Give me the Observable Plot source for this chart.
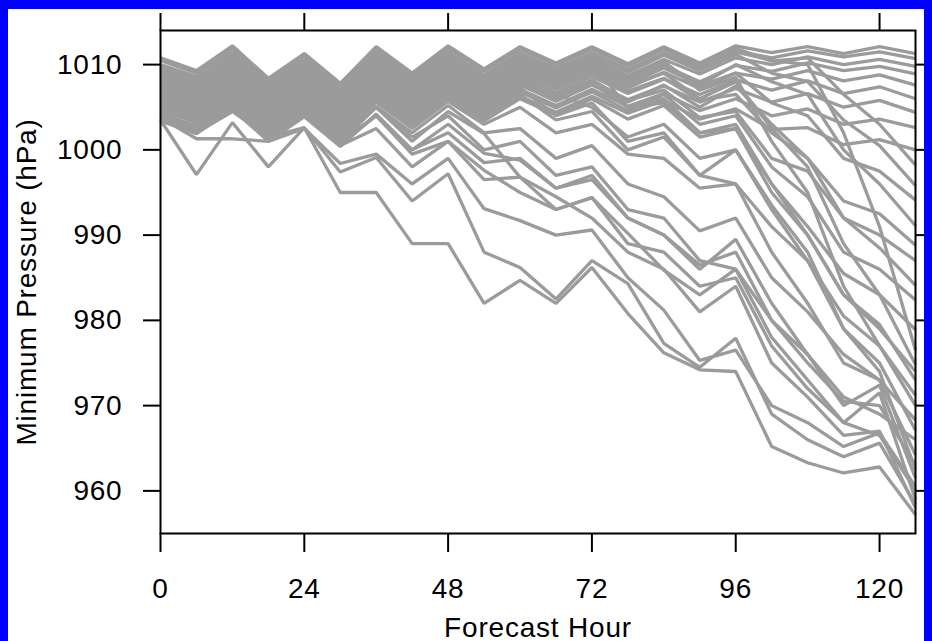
<!DOCTYPE html>
<html><head><meta charset="utf-8">
<script src="https://cdn.jsdelivr.net/npm/d3@7"></script>
<script src="https://cdn.jsdelivr.net/npm/@observablehq/plot@0.6"></script>
<style>
html,body{margin:0;padding:0;background:#0000ff;overflow:hidden;width:932px;height:641px}
#chart{position:absolute;left:8px;top:9px;width:916px;height:632px;background:#fff}
#chart svg{display:block}
#chart svg text{letter-spacing:0.8px}
</style></head><body><div id="chart"></div>
<script>
// Forecast hours (x) and tick labels
const hours = [0,6,12,18,24,30,36,42,48,54,60,66,72,78,84,90,96,102,108,114,120,126];
const xTicks = [0,24,48,72,96,120];
const yTicks = [960,970,980,990,1000,1010];

// Ensemble members: minimum pressure (hPa) at each forecast hour
// members that stay weak
const s1 = [1010.8,1009.3,1012.2,1008.4,1011.3,1007.8,1012.1,1009.0,1012.2,1009.5,1012.1,1010.2,1012.1,1010.1,1012.1,1010.2,1012.2,1011.4,1012.1,1011.3,1012.1,1011.3];
const s2 = [1010.0,1008.6,1011.5,1007.7,1010.6,1007.1,1011.4,1008.3,1011.5,1008.8,1011.4,1009.5,1011.4,1009.4,1011.4,1009.6,1011.6,1010.8,1011.6,1010.9,1011.5,1010.7];
const s3 = [1009.4,1007.9,1010.8,1007.0,1009.9,1006.4,1010.7,1007.6,1010.8,1008.1,1010.7,1008.8,1010.7,1008.7,1010.6,1008.9,1010.8,1010.0,1010.9,1010.0,1010.6,1009.8];
const s4 = [1008.7,1007.2,1010.1,1006.3,1009.2,1005.7,1010.0,1006.9,1010.1,1007.4,1010.0,1008.1,1010.0,1008.0,1009.9,1008.0,1009.9,1009.2,1010.2,1009.3,1009.8,1008.9];
const s5 = [1008.0,1006.5,1009.4,1005.6,1008.5,1005.0,1009.3,1006.2,1009.4,1006.7,1009.3,1007.4,1009.3,1007.3,1009.1,1007.2,1009.0,1008.3,1009.3,1008.1,1008.8,1007.6];
const s6 = [1007.3,1005.8,1008.7,1004.9,1007.8,1004.3,1008.6,1005.5,1008.7,1006.0,1008.6,1006.7,1008.6,1006.6,1008.3,1006.5,1008.2,1007.0,1008.1,1006.6,1007.4,1006.0];
const s7 = [1006.6,1005.1,1008.0,1004.2,1007.1,1003.6,1007.9,1004.8,1008.0,1005.3,1007.9,1006.0,1007.9,1005.9,1007.5,1005.6,1007.2,1005.6,1006.6,1005.0,1005.8,1004.4];
const s8 = [1005.8,1004.3,1007.2,1003.4,1006.3,1002.8,1007.1,1004.0,1007.2,1004.5,1007.1,1005.2,1007.1,1005.1,1006.6,1004.6,1006.0,1004.0,1004.8,1003.0,1003.6,1002.6];
const s9 = [1005.0,1003.5,1006.4,1002.6,1005.5,1002.0,1006.3,1003.2,1006.4,1003.7,1006.3,1004.4,1006.3,1004.3,1005.8,1003.6,1004.8,1002.4,1002.6,1000.6,1001.2,1000.0];
// members deepening late
const l1 = [1010.5,1009.0,1011.9,1008.0,1011.0,1007.4,1011.8,1008.7,1011.9,1009.2,1011.8,1009.9,1011.8,1009.8,1011.8,1009.9,1011.9,1010.4,1010.8,1006.5,1003.0,998.2];
const l2 = [1009.8,1008.3,1011.2,1007.4,1010.3,1006.8,1011.1,1008.0,1011.2,1008.5,1011.1,1009.2,1011.1,1009.1,1011.1,1009.3,1011.2,1009.0,1008.0,1003.5,1000.5,995.8];
const l3 = [1009.1,1007.6,1010.5,1006.7,1009.6,1006.1,1010.4,1007.3,1010.5,1007.8,1010.4,1008.5,1010.4,1008.3,1010.2,1007.5,1009.0,1005.5,1004.0,999.0,997.5,994.1];
const l4 = [1008.4,1006.9,1009.8,1006.0,1008.9,1005.4,1009.7,1006.6,1009.8,1007.1,1009.7,1007.8,1009.7,1007.7,1009.6,1007.6,1010.0,1008.0,1006.5,1000.0,996.0,991.1];
const l5 = [1007.7,1006.2,1009.1,1005.3,1008.2,1004.7,1009.0,1005.9,1009.1,1006.4,1009.0,1007.1,1009.0,1006.9,1008.4,1005.8,1006.5,1002.0,999.0,994.0,992.5,988.8];
const l6 = [1007.0,1005.5,1008.4,1004.6,1007.5,1004.0,1008.3,1005.2,1008.4,1005.7,1008.3,1006.4,1008.2,1005.8,1007.0,1003.8,1004.5,999.0,997.5,992.0,990.0,987.0];
const l7 = [1006.3,1004.8,1007.7,1003.9,1006.8,1003.3,1007.6,1004.5,1007.7,1005.0,1007.6,1005.7,1007.6,1005.6,1007.6,1005.0,1007.5,1003.0,999.0,992.0,988.5,984.1];
const l8 = [1005.5,1004.0,1006.9,1003.1,1006.0,1002.5,1006.8,1003.7,1006.9,1004.2,1006.8,1004.9,1006.8,1004.6,1006.5,1003.0,1004.0,998.0,994.5,988.0,986.0,982.4];
const l9 = [1004.7,1003.2,1006.1,1002.3,1005.2,1001.7,1006.0,1002.9,1006.1,1003.4,1006.0,1004.1,1006.0,1003.6,1005.2,1001.5,1002.5,996.0,991.0,985.5,983.0,978.9];
const l10 = [1009.9,1008.4,1011.3,1007.5,1010.4,1006.9,1011.2,1008.1,1011.3,1008.6,1011.2,1009.3,1011.2,1009.2,1011.2,1009.3,1011.5,1010.5,1010.0,1002.0,991.0,976.5];
const l11 = [1008.2,1006.7,1009.6,1005.8,1008.7,1005.2,1009.5,1006.4,1009.6,1006.9,1009.5,1007.6,1009.5,1007.5,1009.0,1006.0,1008.0,1002.5,998.0,989.0,983.0,974.8];
const l12 = [1006.8,1005.3,1008.2,1004.4,1007.3,1003.8,1008.1,1005.0,1008.2,1005.5,1008.1,1006.2,1007.8,1005.0,1005.5,1002.0,1002.5,995.0,990.0,983.0,979.5,973.0];
const l13 = [1009.5,1008.0,1010.9,1007.1,1010.0,1006.5,1010.8,1007.7,1010.9,1008.2,1010.8,1008.9,1010.8,1008.6,1010.4,1007.0,1008.5,1001.0,995.0,984.0,977.0,971.2];
// members deepening mid-period
const m1 = [1004.3,1002.8,1005.7,1001.9,1004.8,1001.3,1005.6,1002.5,1005.7,1003.0,1005.0,1002.0,1003.0,999.5,999.0,995.5,996.0,991.0,987.0,980.5,977.0,970.0];
const m2 = [1003.8,1002.3,1005.2,1001.4,1004.3,1000.8,1005.1,1002.0,1005.2,1002.0,1002.5,999.0,1000.5,996.0,994.5,990.5,992.0,985.0,981.0,976.0,973.0,968.3];
const m3 = [1005.2,1003.7,1006.6,1002.8,1005.7,1002.2,1006.5,1003.4,1006.6,1003.9,1006.5,1003.5,1004.5,1000.0,1001.5,997.0,1000.0,993.5,988.0,979.0,975.0,967.1];
const m4 = [1003.4,1001.9,1004.8,1001.0,1003.9,1000.4,1004.2,1000.0,1002.0,998.5,999.0,995.5,996.5,992.0,990.0,986.5,988.0,980.0,976.0,971.0,969.0,966.0];
const m5 = [1006.0,1004.5,1007.4,1003.6,1006.5,1003.0,1007.3,1004.2,1007.4,1004.7,1007.3,1004.0,1005.5,1001.0,1002.0,997.0,996.0,988.0,982.0,975.0,973.0,964.2];
const m6 = [1007.5,1006.0,1008.9,1005.1,1008.0,1004.5,1008.8,1005.7,1008.9,1006.2,1008.8,1006.5,1005.0,1001.5,1003.0,999.0,1000.0,993.0,987.0,979.0,974.0,962.5];
const m7 = [1003.6,1002.1,1005.0,1001.2,1004.1,1000.6,1004.0,999.5,1001.0,996.5,996.8,993.0,994.4,989.0,988.0,984.0,985.0,977.0,972.0,968.0,966.5,960.1];
const m8 = [1008.8,1007.3,1010.2,1006.4,1009.3,1005.8,1010.1,1007.0,1010.2,1007.5,1010.1,1008.2,1010.1,1005.0,1006.0,1002.0,1003.0,996.0,990.0,983.0,979.0,974.0];
const m9 = [1004.0,1002.5,1005.4,1001.6,1004.5,1001.0,1005.0,1001.5,1004.0,1000.0,1001.0,997.0,998.0,993.0,992.0,987.0,986.0,980.0,975.0,970.5,970.0,963.0];
// members deepening early
const e1 = [1004.0,1002.0,1004.5,1001.5,1002.6,995.0,995.0,989.0,989.0,982.0,984.7,982.0,986.2,980.8,976.2,974.2,974.0,965.2,963.3,962.1,962.8,957.2];
const e2 = [1003.5,997.1,1003.2,998.0,1002.6,997.4,999.1,994.0,997.2,988.0,986.2,982.5,987.0,984.3,977.3,974.5,977.9,969.0,966.0,964.0,965.6,958.4];
const e3 = [1003.8,1001.3,1001.3,1001.0,1002.5,998.4,999.5,996.0,999.0,993.1,991.7,990.0,990.6,985.0,981.2,975.3,976.5,970.0,968.0,965.2,966.8,960.5];
const e4 = [1004.5,1002.5,1005.5,1002.0,1004.0,1000.5,1002.5,998.0,1001.0,997.6,995.0,993.0,994.4,990.2,985.9,983.0,986.0,978.0,973.0,968.0,971.5,959.0];
const e5 = [1005.0,1003.2,1006.0,1002.5,1005.0,1001.0,1004.0,1000.0,1003.0,999.6,998.8,995.5,997.0,992.0,990.0,986.0,989.5,982.0,976.0,970.0,972.4,961.5];
const e6 = [1005.5,1003.8,1006.8,1003.0,1005.5,1001.5,1005.0,1001.0,1004.5,1001.9,996.8,994.5,992.0,988.0,986.0,981.0,984.0,975.0,971.0,966.5,967.0,958.0];

const members = [s1,s2,s3,s4,s5,s6,s7,s8,s9,l1,l2,l3,l4,l5,l6,l7,l8,l9,l10,l11,l12,l13,m1,m2,m3,m4,m5,m6,m7,m8,m9,e1,e2,e3,e4,e5,e6];
const rows = members.flatMap((vals, k) => vals.map((p, i) => ({member: k, hour: hours[i], p})));

const chart = Plot.plot({
  width: 916,
  height: 632,
  marginLeft: 152,
  marginRight: 9,
  marginTop: 21,
  marginBottom: 108,
  style: {background: "white", color: "black", fontFamily: "'Liberation Sans', Arial, Helvetica, sans-serif", fontSize: "28px"},
  x: {domain: [0, 126]},
  y: {domain: [955, 1014]},
  marks: [
    Plot.line(rows, {x: "hour", y: "p", z: "member", stroke: "#9b9b9b", strokeWidth: 3.3, strokeLinejoin: "miter", strokeLinecap: "butt"}),
    Plot.frame({stroke: "black", strokeWidth: 2}),
    Plot.axisX({anchor: "bottom", ticks: xTicks, tickSize: 19, tickPadding: 26, strokeWidth: 2, tickFormat: d => String(d), label: "Forecast Hour", labelAnchor: "center", labelArrow: "none", labelOffset: 103}),
    Plot.axisX({anchor: "top", ticks: xTicks, tickSize: 18, strokeWidth: 2, tickFormat: () => "", label: null}),
    Plot.axisY({anchor: "left", ticks: yTicks, tickSize: 17, tickPadding: 21, strokeWidth: 2, tickFormat: d => String(d), label: "Minimum Pressure (hPa)", labelAnchor: "center", labelArrow: "none", labelOffset: 144}),
    Plot.axisY({anchor: "right", ticks: yTicks, tickSize: 17, strokeWidth: 2, tickFormat: () => "", label: null})
  ]
});
document.getElementById("chart").appendChild(chart);
</script></body></html>
